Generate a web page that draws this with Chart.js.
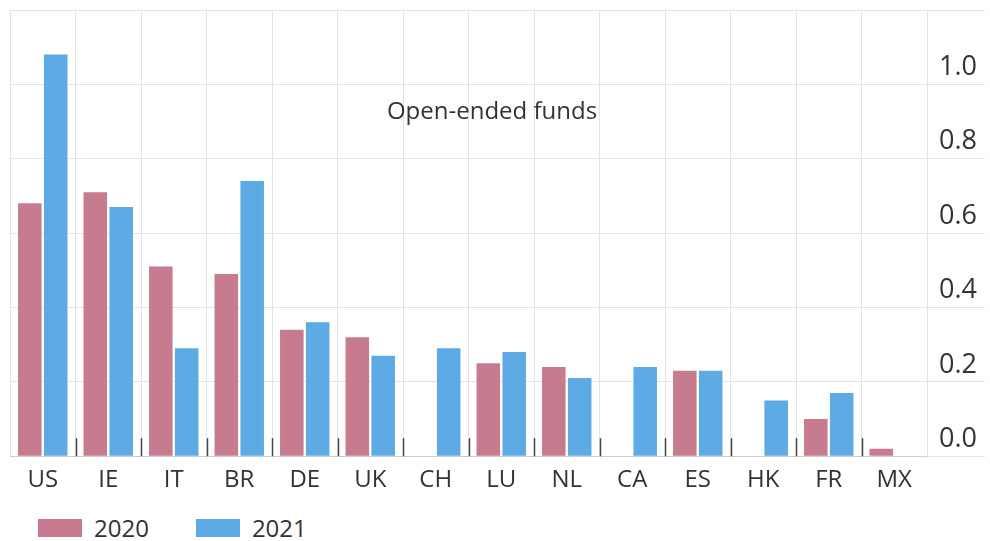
<!DOCTYPE html>
<html lang="en">
<head>
  <meta charset="UTF-8" />
  <title>Open-ended funds</title>
  <style>
    * {
      margin: 0;
      padding: 0;
      box-sizing: border-box;
    }

    body {
      background: #fff;
      width: 990px;
      height: 541px;
      overflow: hidden;
      font-family: 'Open Sans', sans-serif;
    }

    .wrap {
      position: relative;
      width: 990px;
      height: 505px;
    }

    .legend {
      position: absolute;
      left: 38px;
      top: 511px;
      display: flex;
      align-items: center;
      font-size: 24px;
      color: #333;
    }

    .legend span.box {
      display: inline-block;
      width: 44px;
      height: 18px;
      margin-right: 12px;
    }

    .legend .item {
      display: flex;
      align-items: center;
      margin-right: 47px;
    }
  </style>
</head>
<body>
  <div class="wrap">
    <canvas id="fundsChart" width="990" height="505"></canvas>
  </div>
  <div class="legend" id="legend"></div>

  <script src="https://cdn.jsdelivr.net/npm/chart.js"></script>
  <script>
    const countries = ["US", "IE", "IT", "BR", "DE", "UK", "CH", "LU", "NL", "CA", "ES", "HK", "FR", "MX"];
    const values2020 = [0.68, 0.71, 0.51, 0.49, 0.34, 0.32, null, 0.25, 0.24, null, 0.23, null, 0.10, 0.02];
    const values2021 = [1.08, 0.67, 0.29, 0.74, 0.36, 0.27, 0.29, 0.28, 0.21, 0.24, 0.23, 0.15, 0.17, null];
    const yTicks = [0.0, 0.2, 0.4, 0.6, 0.8, 1.0];

    const pink = '#c77b8e';
    const blue = '#5eaae4';
    const gridColor = '#e4e4e4';

    // dark tick marks at the category boundaries, pointing up into the plot
    const boundaryTicks = {
      id: 'boundaryTicks',
      afterDatasetsDraw(chart) {
        const x = chart.scales.x;
        const ctx = chart.ctx;
        const bottom = chart.chartArea.bottom;
        const step = x.getPixelForValue(1) - x.getPixelForValue(0);
        ctx.save();
        ctx.strokeStyle = '#444';
        ctx.lineWidth = 1.5;
        for (let i = 1; i < countries.length; i++) {
          const px = Math.round(x.getPixelForValue(i) - step / 2) + 0.5;
          ctx.beginPath();
          ctx.moveTo(px, bottom);
          ctx.lineTo(px, bottom - 18);
          ctx.stroke();
        }
        ctx.restore();
      }
    };

    const innerTitle = {
      id: 'innerTitle',
      afterDraw(chart) {
        const ctx = chart.ctx;
        ctx.save();
        ctx.font = "24px 'Open Sans', sans-serif";
        ctx.fillStyle = '#333';
        ctx.textAlign = 'center';
        ctx.textBaseline = 'middle';
        ctx.fillText('Open-ended funds', 492, 112);
        ctx.restore();
      }
    };

    const ctx = document.getElementById('fundsChart').getContext('2d');
    new Chart(ctx, {
      type: 'bar',
      data: {
        labels: countries,
        datasets: [
          {
            label: '2020',
            data: values2020,
            backgroundColor: pink,
            categoryPercentage: 0.79,
            barPercentage: 0.91
          },
          {
            label: '2021',
            data: values2021,
            backgroundColor: blue,
            categoryPercentage: 0.79,
            barPercentage: 0.91
          }
        ]
      },
      options: {
        responsive: false,
        animation: false,
        layout: {
          padding: { left: 10, top: 10, right: 5, bottom: 0 }
        },
        plugins: {
          legend: { display: false },
          tooltip: { enabled: false }
        },
        scales: {
          x: {
            grid: {
              color: gridColor,
              drawTicks: false,
              offset: true
            },
            border: { color: '#cfcfcf' },
            ticks: {
              color: '#333',
              padding: 10,
              font: { family: 'Open Sans', size: 24 }
            }
          },
          y: {
            position: 'right',
            min: 0,
            max: 1.2,
            afterBuildTicks(scale) {
              scale.ticks = yTicks.concat([1.2]).map(v => ({ value: v }));
            },
            afterFit(scale) {
              scale.width = 58;
            },
            grid: {
              color: gridColor,
              tickLength: 58
            },
            border: { color: gridColor },
            ticks: {
              color: '#333',
              padding: -46,
              crossAlign: 'near',
              labelOffset: -17,
              font: { family: 'Open Sans', size: 27 },
              callback: v => (yTicks.some(t => Math.abs(t - v) < 1e-9) ? v.toFixed(1) : '')
            }
          }
        }
      },
      plugins: [boundaryTicks, innerTitle]
    });

    const legend = document.getElementById('legend');
    [['2020', pink], ['2021', blue]].forEach(([name, color]) => {
      const item = document.createElement('div');
      item.className = 'item';
      item.innerHTML = '<span class="box" style="background:' + color + '"></span>' + name;
      legend.appendChild(item);
    });
  </script>
</body>
</html>
